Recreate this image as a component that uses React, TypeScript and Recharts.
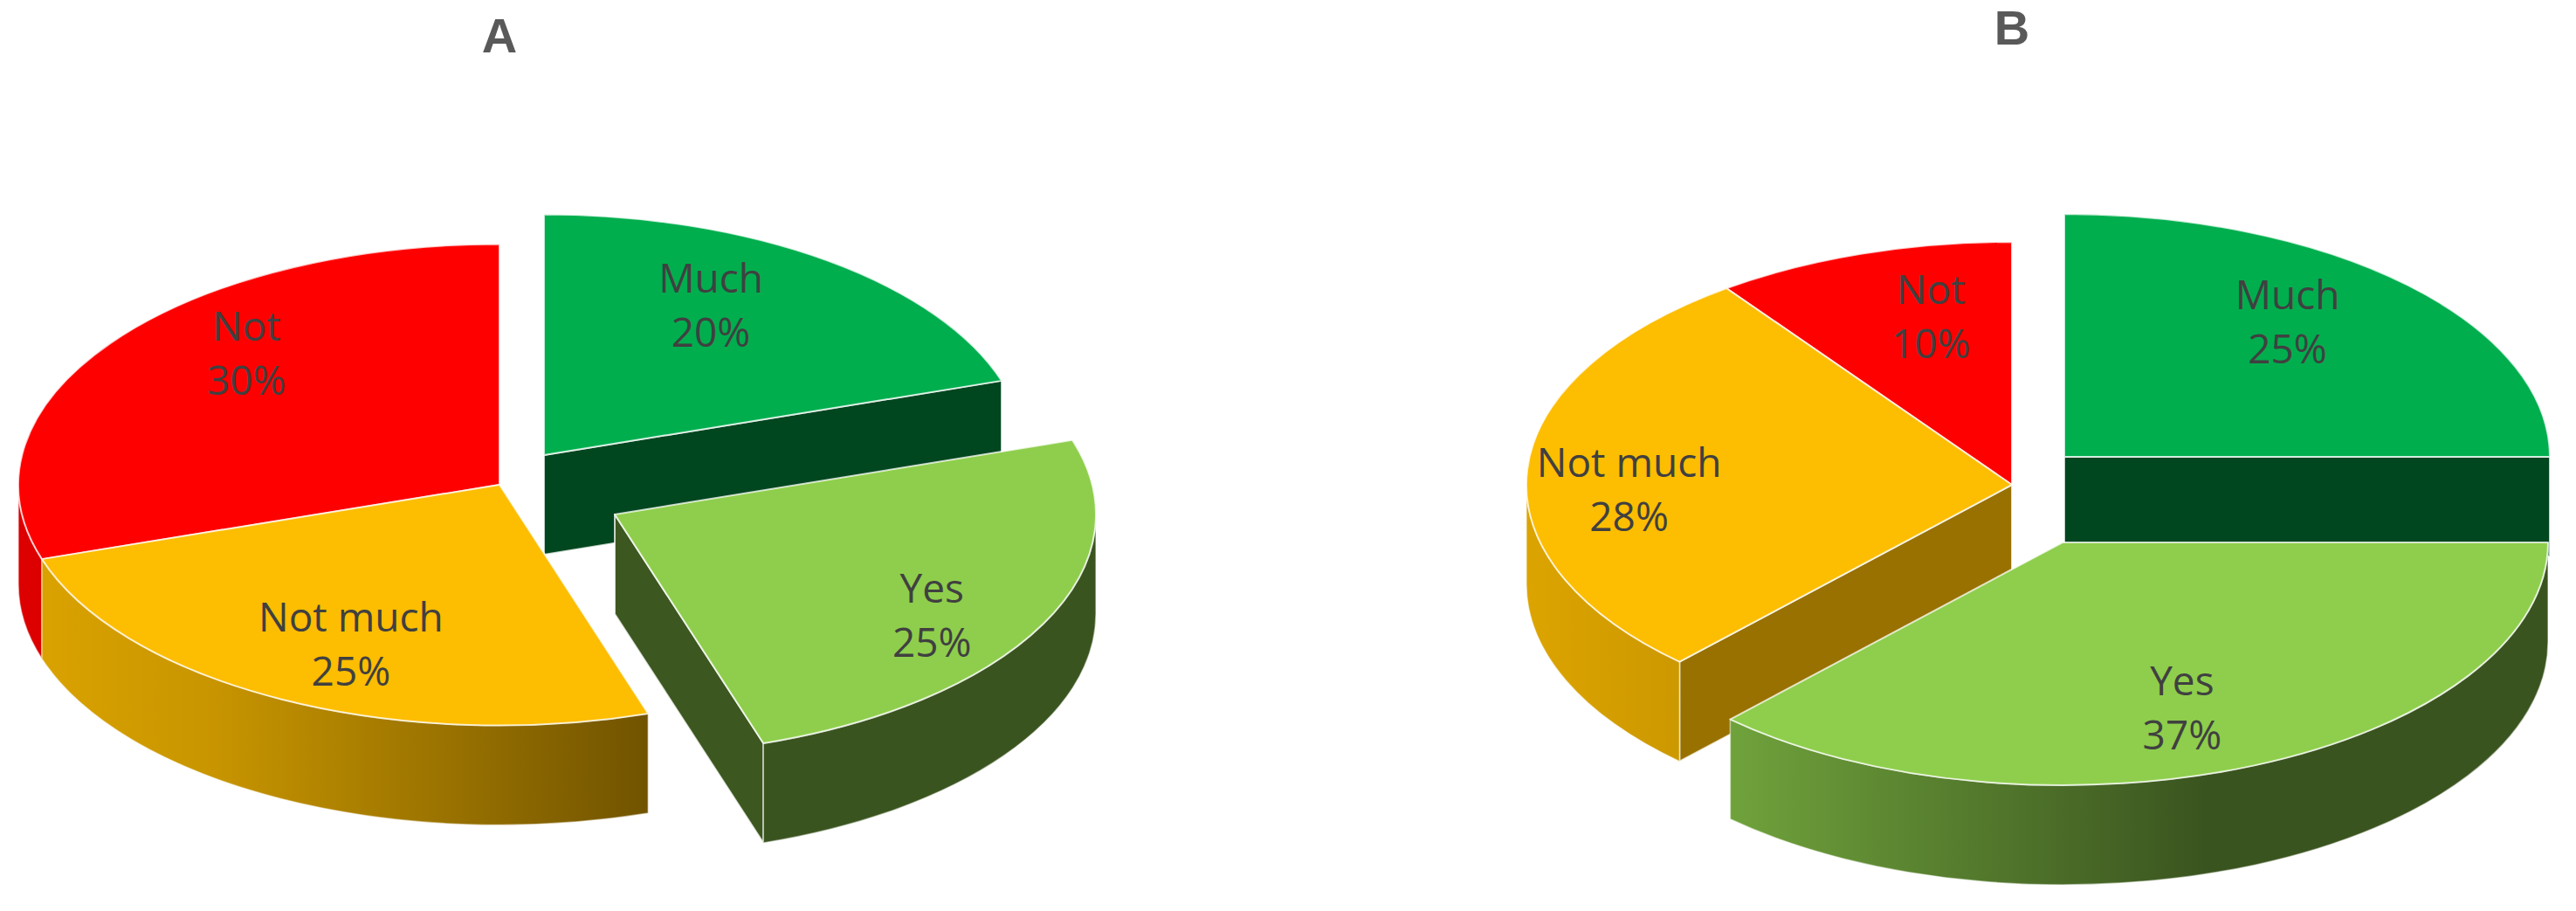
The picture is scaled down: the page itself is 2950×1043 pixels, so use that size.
import React from 'react';
import { PieChart, Pie } from 'recharts';

const sliceNames = ['Much', 'Not', 'Not much', 'Yes'];
const valuesA = [20, 30, 25, 25];
const valuesB = [25, 10, 28, 37];
const titles = ['A', 'B'];

const toRows = (values: number[]) => sliceNames.map((name, i) => ({ name, value: values[i] }));
const dataA = toRows(valuesA);
const dataB = toRows(valuesB);

const RADIAN = Math.PI / 180;
const SQUASH = 0.5;
const DEPTH = 114;
const TEXT_FONT = '"Open Sans", sans-serif';
const TITLE_FONT = '"Liberation Sans", sans-serif';

const COLORS: Record<string, number[]> = {
    Much: [0, 174, 78],
    Yes: [142, 206, 76],
    'Not much': [253, 189, 0],
    Not: [255, 0, 0],
};

// how dark the straight cut faces are
const FACE_SHADE: Record<string, number> = { Much: 0.4, Yes: 0.42, 'Not much': 0.6, Not: 0.6 };

const shade = (name: string, k: number) => {
    const [r, g, b] = COLORS[name];
    return `rgb(${Math.round(r * k)},${Math.round(g * k)},${Math.round(b * k)})`;
};

interface PieLook {
    id: string;
    cx: number;
    cy: number;
    radius: number;
    shift: Record<string, number[]>; // exploded slices
    labelAt: Record<string, number[]>; // label place as part of radius along the mid angle
}

const lookA: PieLook = {
    id: 'a',
    cx: 572,
    cy: 555,
    radius: 551,
    shift: { Much: [51, -34], Yes: [132, 34] },
    labelAt: { Much: [0.59, 0.77], Yes: [0.74, 0.92], 'Not much': [0.68, 0.74], Not: [0.65, 0.93] },
};

const lookB: PieLook = {
    id: 'b',
    cx: 2304,
    cy: 555,
    radius: 556,
    shift: { Much: [60, -32], Yes: [58, 66] },
    labelAt: { Much: [0.65, 0.79], Yes: [0.62, 0.74], 'Not much': [0.79, -0.28], Not: [0.54, 0.73] },
};

const makeSlice = (look: PieLook) => (props: any) => {
    const { startAngle, endAngle, outerRadius, name } = props;
    const rx = outerRadius;
    const ry = outerRadius * SQUASH;
    const [dx, dy] = look.shift[name] || [0, 0];
    const ox = look.cx + dx;
    const oy = look.cy + dy;

    let a0 = Math.min(startAngle, endAngle);
    let a1 = Math.max(startAngle, endAngle);
    while (a0 >= 360) {
        a0 -= 360;
        a1 -= 360;
    }

    const px = (a: number) => ox + rx * Math.cos(a * RADIAN);
    const py = (a: number) => oy - ry * Math.sin(a * RADIAN);
    const top = `M${ox},${oy} L${px(a0)},${py(a0)} A${rx},${ry} 0 ${a1 - a0 > 180 ? 1 : 0} 0 ${px(a1)},${py(a1)} Z`;

    const rayFace = (a: number) =>
        `M${ox},${oy} L${px(a)},${py(a)} L${px(a)},${py(a) + DEPTH} L${ox},${oy + DEPTH} Z`;

    // only the front half of the rim can be seen
    const w0 = Math.max(a0, 180);
    const w1 = Math.min(a1, 360);
    const rim =
        w1 > w0
            ? `M${px(w0)},${py(w0)} A${rx},${ry} 0 0 0 ${px(w1)},${py(w1)} L${px(w1)},${py(w1) + DEPTH} A${rx},${ry} 0 0 1 ${px(w0)},${py(w0) + DEPTH} Z`
            : null;

    const gradId = `rim-${look.id}-${name.replace(' ', '')}`;
    const edge = { stroke: '#ffffff', strokeWidth: 2, strokeOpacity: 0.75, strokeLinejoin: 'round' as const };

    return (
        <g>
            <defs>
                <linearGradient
                    id={gradId}
                    gradientUnits="userSpaceOnUse"
                    x1={look.cx - rx}
                    x2={look.cx + rx * 0.4}
                    y1={0}
                    y2={0}
                >
                    <stop offset="0%" stopColor={shade(name, 0.87)} />
                    <stop offset="29%" stopColor={shade(name, 0.79)} />
                    <stop offset="100%" stopColor={shade(name, 0.41)} />
                </linearGradient>
            </defs>
            {Math.cos(a0 * RADIAN) > 0.001 && <path d={rayFace(a0)} fill={shade(name, FACE_SHADE[name])} {...edge} />}
            {Math.cos(a1 * RADIAN) < -0.001 && <path d={rayFace(a1)} fill={shade(name, FACE_SHADE[name])} {...edge} />}
            {rim && <path d={rim} fill={`url(#${gradId})`} stroke="#ffffff" strokeWidth={1.5} strokeOpacity={0.5} />}
            <path d={top} fill={shade(name, 1)} {...edge} />
        </g>
    );
};

const makeLabel = (look: PieLook) => (props: any) => {
    const { midAngle, outerRadius, name, value } = props;
    const [dx, dy] = look.shift[name] || [0, 0];
    const [fx, fy] = look.labelAt[name];
    const x = look.cx + dx + fx * outerRadius * Math.cos(midAngle * RADIAN);
    const y = look.cy + dy - fy * outerRadius * SQUASH * Math.sin(midAngle * RADIAN);
    return (
        <text x={x} y={y} textAnchor="middle" fill="#404040" fontSize={46} fontFamily={TEXT_FONT}>
            <tspan x={x} dy={-14}>{name}</tspan>
            <tspan x={x} dy={62}>{`${value}%`}</tspan>
        </text>
    );
};

const renderPie = (data: any[], look: PieLook) => (
    <Pie
        data={data}
        dataKey="value"
        nameKey="name"
        cx={look.cx}
        cy={look.cy}
        outerRadius={look.radius}
        startAngle={90 - data[0].value * 3.6}
        endAngle={450 - data[0].value * 3.6}
        shape={makeSlice(look)}
        label={makeLabel(look)}
        labelLine={false}
        stroke="none"
        isAnimationActive={false}
    />
);

const App: React.FC = () => (
    <div style={{ position: 'absolute', left: 0, top: 0, width: 2950, height: 1043, background: '#ffffff' }}>
        <PieChart width={2950} height={1043} margin={{ top: 0, right: 0, bottom: 0, left: 0 }}>
            {renderPie(dataA, lookA)}
            {renderPie(dataB, lookB)}
            <text x={572} y={60} textAnchor="middle" fill="#595959" fontSize={56} fontWeight={700} fontFamily={TITLE_FONT}>
                {titles[0]}
            </text>
            <text x={2304} y={51} textAnchor="middle" fill="#595959" fontSize={56} fontWeight={700} fontFamily={TITLE_FONT}>
                {titles[1]}
            </text>
        </PieChart>
    </div>
);

export default App;
